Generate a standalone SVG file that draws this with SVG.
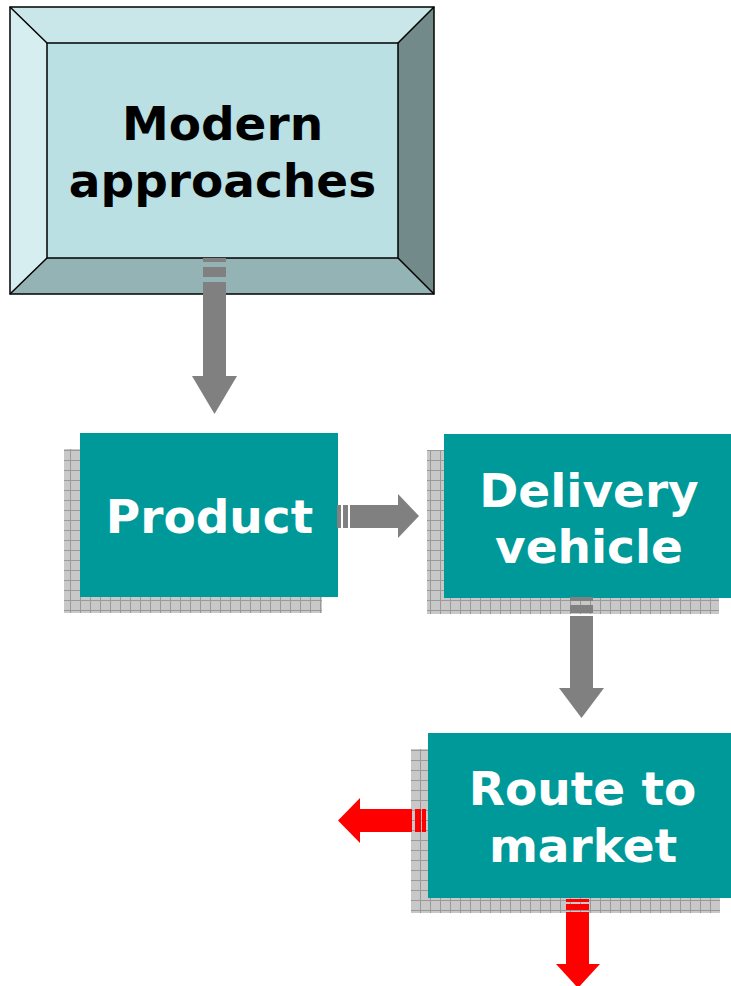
<svg xmlns="http://www.w3.org/2000/svg" width="731" height="986" viewBox="0 0 731 986">
  <defs>
    <pattern id="grid" x="0" y="0" width="10" height="10" patternUnits="userSpaceOnUse">
      <rect width="10" height="10" fill="#c8c8c8"/>
      <path d="M0 0.5H10M0.5 0V10" stroke="#999999" stroke-width="1"/>
    </pattern>
    <style>
      .lbl { font-family: "DejaVu Sans", Verdana, sans-serif; font-weight: bold; font-size: 47px; text-anchor: middle; }
      .w { fill: #ffffff; }
      .k { fill: #000000; }
      .shadow { fill: url(#grid); }
      .teal { fill: #009999; }
      .gray { fill: #808080; }
      .red { fill: #ff0000; }
      .edge { stroke: #000000; stroke-width: 1.5; fill: none; }
    </style>
  </defs>
  <rect width="731" height="986" fill="#ffffff"/>

  <g id="modern-approaches">
    <polygon points="10,7 434,7 398,43 47,43" fill="#c9e6e9"/>
    <polygon points="10,7 47,43 47,258 10,294" fill="#d7eef0"/>
    <polygon points="434,7 434,294 398,258 398,43" fill="#728a8a"/>
    <polygon points="10,294 47,258 398,258 434,294" fill="#94b3b5"/>
    <rect x="47" y="43" width="351" height="215" fill="#bae0e3"/>
    <rect x="10" y="7" width="424" height="287" class="edge" stroke-width="2"/>
    <rect x="47" y="43" width="351" height="215" class="edge"/>
    <path d="M10 7L47 43M434 7L398 43M10 294L47 258M434 294L398 258" class="edge"/>
    <text class="lbl k" x="222.5" y="140">Modern</text>
    <text class="lbl k" x="222.5" y="197">approaches</text>
  </g>

  <g id="product">
    <rect class="shadow" x="64" y="449" width="258" height="164"/>
    <rect class="teal" x="80" y="433" width="258" height="164"/>
    <text class="lbl w" x="209.5" y="533">Product</text>
  </g>

  <g id="delivery-vehicle">
    <rect class="shadow" x="427" y="450" width="292" height="164"/>
    <rect class="teal" x="444" y="434" width="287" height="164"/>
    <text class="lbl w" x="589" y="507">Delivery</text>
    <text class="lbl w" x="589" y="563">vehicle</text>
  </g>

  <g id="route-to-market">
    <rect class="shadow" x="411" y="749" width="309" height="164"/>
    <rect class="teal" x="428" y="733" width="303" height="165"/>
    <text class="lbl w" x="582.5" y="805">Route to</text>
    <text class="lbl w" x="583" y="862">market</text>
  </g>

  <g id="connectors">
    <g id="arrow-modern-product" class="gray">
      <rect x="203" y="258" width="23" height="4"/>
      <rect x="203" y="267" width="23" height="10"/>
      <rect x="203" y="282" width="23" height="95"/>
      <polygon points="192,376 237,376 214.5,414"/>
    </g>
    <g id="arrow-product-delivery" class="gray">
      <rect x="337" y="505" width="4" height="23"/>
      <rect x="343" y="505" width="5" height="23"/>
      <rect x="350" y="505" width="49" height="23"/>
      <polygon points="398,494 398,538 419,516"/>
    </g>
    <g id="arrow-delivery-route" class="gray">
      <rect x="570" y="597" width="23" height="4"/>
      <rect x="570" y="605" width="23" height="8"/>
      <rect x="570" y="616" width="23" height="73"/>
      <polygon points="559,688 604,688 581.5,718"/>
    </g>
    <g id="arrow-route-left" class="red">
      <rect x="422" y="809" width="4" height="23"/>
      <rect x="415" y="809" width="6" height="23"/>
      <rect x="359" y="809" width="53" height="23"/>
      <polygon points="360,798 360,843 338,820.5"/>
    </g>
    <g id="arrow-route-down" class="red">
      <rect x="566" y="899" width="23" height="3"/>
      <rect x="566" y="904" width="23" height="6"/>
      <rect x="566" y="912" width="23" height="53"/>
      <polygon points="556,964 600,964 578,988"/>
    </g>
  </g>
</svg>
